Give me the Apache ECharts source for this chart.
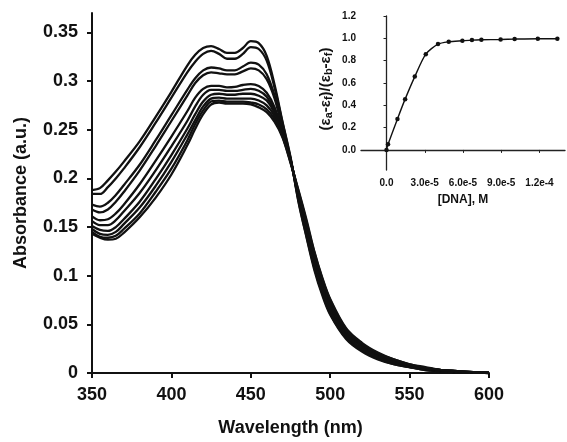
<!DOCTYPE html>
<html>
<head>
<meta charset="utf-8">
<script src="https://cdn.jsdelivr.net/npm/echarts@6/dist/echarts.min.js"></script>
<style>
  html, body { margin: 0; padding: 0; background: #fff; }
  #chart { width: 567px; height: 442px; }
</style>
</head>
<body>
<div id="chart"></div>
<script>
// wavelength grid (nm) shared by all spectra
const wavelengths = [350, 355, 360, 365, 370, 380, 390, 400, 410, 415, 420, 425, 430, 435, 440, 445, 450, 455, 460, 465, 470, 475, 480, 485, 490, 495, 500, 510, 520, 530, 540, 550, 560, 570, 580, 590, 600];

// absorbance spectra, free complex (top) to DNA-saturated (bottom)
const spec1 = [.188, .190, .198, .207, .217, .238, .263, .289, .316, .327, .334, .336, .333, .329, .329, .334, .341, .339, .326, .296, .258, .222, .176, .140, .106, .080, .060, .035, .022, .014, .009, .006, .003, .002, .001, .0005, 0];
const spec2 = [.184, .184, .191, .200, .210, .232, .257, .283, .309, .320, .328, .331, .328, .323, .323, .328, .335, .333, .321, .293, .257, .221, .177, .141, .108, .082, .061, .036, .023, .015, .009, .006, .003, .002, .001, .0005, 0];
const spec3 = [.173, .171, .175, .183, .193, .214, .239, .265, .291, .303, .311, .314, .313, .311, .311, .315, .319, .317, .307, .285, .253, .220, .179, .144, .111, .085, .064, .038, .024, .016, .010, .006, .004, .002, .001, .0005, 0];
const spec4 = [.168, .165, .168, .176, .186, .208, .233, .259, .285, .298, .306, .309, .308, .307, .307, .310, .313, .311, .302, .282, .251, .220, .180, .146, .113, .087, .066, .039, .025, .017, .011, .007, .004, .002, .001, .0005, 0];
const spec5 = [.161, .157, .158, .164, .173, .194, .218, .243, .269, .283, .292, .295, .295, .2935, .294, .296, .297, .295, .288, .273, .248, .219, .182, .149, .116, .090, .069, .041, .027, .018, .012, .007, .004, .002, .001, .0005, 0];
const spec6 = [.156, .152, .152, .157, .166, .185, .208, .233, .259, .274, .286, .291, .291, .290, .290, .291, .292, .290, .284, .270, .247, .219, .183, .150, .118, .092, .070, .042, .028, .019, .012, .008, .005, .003, .001, .0005, 0];
const spec7 = [.151, .147, .146, .150, .158, .176, .199, .224, .251, .266, .279, .286, .287, .286, .286, .287, .287, .285, .280, .267, .246, .218, .184, .152, .120, .094, .072, .043, .029, .019, .013, .008, .005, .003, .002, .001, 0];
const spec8 = [.148, .143, .142, .145, .153, .170, .192, .217, .245, .260, .274, .282, .283, .282, .282, .282, .282, .280, .275, .264, .244, .218, .185, .154, .122, .095, .073, .044, .030, .020, .013, .008, .005, .003, .002, .001, 0];
const spec9 = [.145, .140, .139, .141, .148, .164, .186, .210, .239, .256, .270, .279, .280, .279, .279, .279, .278, .276, .271, .261, .243, .217, .187, .156, .124, .097, .075, .045, .030, .020, .014, .009, .005, .003, .002, .001, 0];
const spec10 = [.143, .139, .137, .138, .144, .160, .180, .204, .234, .251, .266, .276, .278, .277, .277, .277, .276, .273, .268, .258, .242, .216, .188, .158, .125, .098, .076, .046, .031, .021, .014, .009, .006, .003, .002, .001, 0];
const spectra = [spec1, spec2, spec3, spec4, spec5, spec6, spec7, spec8, spec9, spec10];

// main axis ticks
const absTicks = [0, 0.05, 0.1, 0.15, 0.2, 0.25, 0.3, 0.35];

// inset: binding isotherm
const dnaConc = [0, 1.2e-6, 8.6e-6, 1.46e-5, 2.22e-5, 3.08e-5, 4.04e-5, 4.88e-5, 5.95e-5, 6.7e-5, 7.44e-5, 8.95e-5, 1.005e-4, 1.187e-4, 1.34e-4];
const ratio = [0, 0.05, 0.278, 0.455, 0.657, 0.858, 0.948, 0.969, 0.978, 0.984, 0.987, 0.99, 0.993, 0.996, 0.996];
const insetXTicks = [0, 3e-5, 6e-5, 9e-5, 1.2e-4];
const insetYTicks = [0, 0.2, 0.4, 0.6, 0.8, 1.0, 1.2];

const FONT = '"Liberation Sans", Arial, sans-serif';
const ink = '#111';

const chart = echarts.init(document.getElementById('chart'));

const series = spectra.map(s => ({
  type: 'line',
  xAxisIndex: 0,
  yAxisIndex: 0,
  data: wavelengths.map((w, k) => [w, s[k]]),
  showSymbol: false,
  smooth: 0.35,
  lineStyle: { color: ink, width: 2.3 },
  z: 2
}));

series.push({
  type: 'line',
  xAxisIndex: 1,
  yAxisIndex: 1,
  data: dnaConc.map((c, k) => [c, ratio[k]]),
  symbol: 'circle',
  symbolSize: 4.5,
  smooth: 0.25,
  itemStyle: { color: ink },
  lineStyle: { color: ink, width: 1.4 },
  z: 5
});

const axisLine = { show: true, lineStyle: { color: ink, width: 2 } };

const option = {
  animation: false,
  backgroundColor: '#fff',
  grid: [
    { left: 92, top: 13, right: 78, bottom: 66 },
    { left: 361, top: 16, right: 2, height: 154 }
  ],
  xAxis: [
    {
      gridIndex: 0, type: 'value', min: 350, max: 600, interval: 50,
      axisLine: axisLine,
      axisTick: { show: true, inside: false, length: 5, lineStyle: { color: ink, width: 2 } },
      axisLabel: { color: ink, fontFamily: FONT, fontWeight: 'bold', fontSize: 18, margin: 13 },
      splitLine: { show: false },
      name: 'Wavelength (nm)', nameLocation: 'middle', nameGap: 46,
      nameTextStyle: { color: ink, fontFamily: FONT, fontWeight: 'bold', fontSize: 18 }
    },
    {
      gridIndex: 1, type: 'value', min: -2e-5, max: 1.4e-4,
      axisLine: { show: true, lineStyle: { color: '#222', width: 1.3 } },
      axisTick: { show: true, length: 3, customValues: insetXTicks, lineStyle: { color: '#222', width: 1 } },
      axisLabel: {
        customValues: insetXTicks,
        color: ink, fontFamily: FONT, fontWeight: 'bold', fontSize: 10, margin: 8,
        formatter: v => (v === 0 ? '0.0' : v.toExponential(1))
      },
      splitLine: { show: false },
      name: '[DNA], M', nameLocation: 'middle', nameGap: 24,
      nameTextStyle: { color: ink, fontFamily: FONT, fontWeight: 'bold', fontSize: 12 }
    }
  ],
  yAxis: [
    {
      gridIndex: 0, type: 'value', min: 0, max: 0.37,
      axisLine: axisLine,
      axisTick: { show: true, length: 5, customValues: absTicks, lineStyle: { color: ink, width: 2 } },
      axisLabel: { customValues: absTicks, color: ink, fontFamily: FONT, fontWeight: 'bold', fontSize: 18, margin: 14 },
      splitLine: { show: false },
      name: 'Absorbance (a.u.)', nameLocation: 'middle', nameGap: 62, nameRotate: 90,
      nameTextStyle: { color: ink, fontFamily: FONT, fontWeight: 'bold', fontSize: 18 }
    },
    {
      gridIndex: 1, type: 'value', min: -0.18, max: 1.2,
      axisLine: { show: true, lineStyle: { color: '#222', width: 1.3 } },
      axisTick: { show: true, length: 3, customValues: insetYTicks, lineStyle: { color: '#222', width: 1 } },
      axisLabel: {
        customValues: insetYTicks,
        color: ink, fontFamily: FONT, fontWeight: 'bold', fontSize: 10, margin: 5,
        formatter: v => v.toFixed(1)
      },
      splitLine: { show: false },
      name: '(ε{s|a}-ε{s|f})/(ε{s|b}-ε{s|f})', nameLocation: 'middle', nameGap: 27, nameRotate: 90,
      nameTextStyle: {
        color: ink, fontFamily: FONT, fontWeight: 'bold', fontSize: 15,
        padding: [0, 0, 0, 8],
        rich: { s: { fontFamily: FONT, fontWeight: 'bold', fontSize: 11, color: ink, verticalAlign: 'bottom', padding: [6, 0, 0, 0] } }
      }
    }
  ],
  series: series
};

chart.setOption(option);
</script>
</body>
</html>
